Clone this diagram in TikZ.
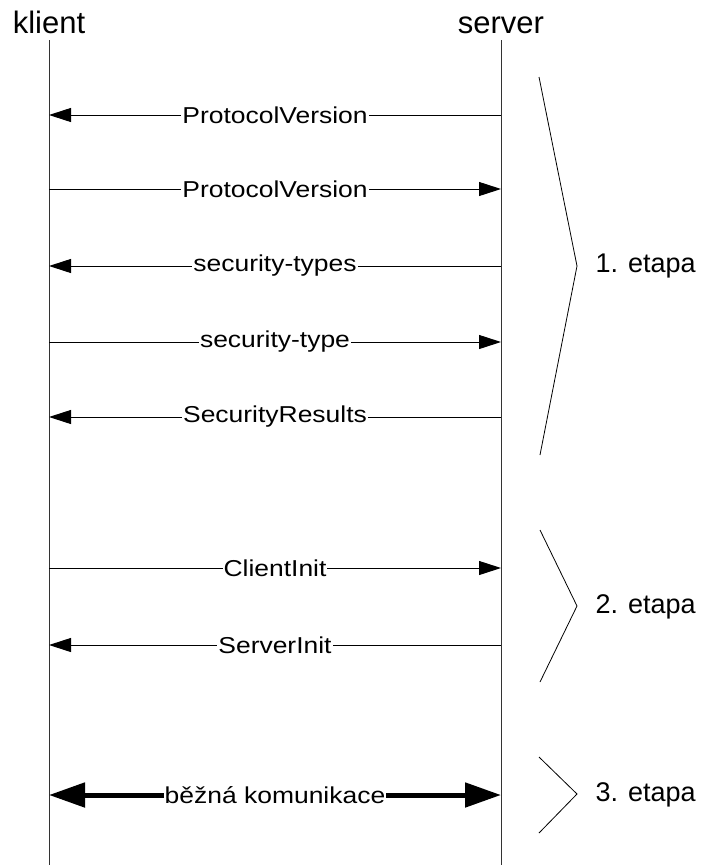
\documentclass[tikz,border=0pt]{standalone}
\usepackage{fontspec}
\setmainfont{Liberation Sans}
\usetikzlibrary{arrows.meta}
\begin{document}
\begin{tikzpicture}[x=1pt,y=-1pt,
  party/.style={anchor=base,font=\fontsize{31}{34}\selectfont},
  msgtext/.style={fill=white,inner xsep=1pt,inner ysep=2pt,font=\fontsize{23}{26}\selectfont},
  phase/.style={anchor=west,font=\fontsize{27}{31}\selectfont},
  lifeline/.style={line width=0.9pt,draw=black!80},
  msg/.style={line width=1pt,-{Triangle[length=22pt,width=14pt]}},
  bigmsg/.style={line width=5pt,{Triangle[length=36pt,width=24pt]}-{Triangle[length=36pt,width=24pt]}},
  brace/.style={line width=0.8pt}]
\useasboundingbox (0,0) rectangle (712,865);

% participants and lifelines
\node[party] (klient) at (49,33) {klient};
\node[party] (server) at (501,33) {server};
\coordinate (kTop) at (49,40);  \coordinate (kBot) at (49,865);
\coordinate (sTop) at (501,40); \coordinate (sBot) at (501,865);
\draw[lifeline] (kTop) -- (kBot);
\draw[lifeline] (sTop) -- (sBot);

% message anchor points on both lifelines
\foreach \n/\y in {1/115,2/189,3/266,4/342,5/417,6/568,7/645,8/795}{
  \coordinate (k\n) at (49,\y);
  \coordinate (s\n) at (501,\y);
}

% messages
\newcommand\wide[1]{\scalebox{1.15}[1]{#1}}
\draw[msg] (s1) -- node[msgtext] {\wide{ProtocolVersion}} (k1);
\draw[msg] (k2) -- node[msgtext] {\wide{ProtocolVersion}} (s2);
\draw[msg] (s3) -- node[msgtext] {\wide{security-types}} (k3);
\draw[msg] (k4) -- node[msgtext] {\wide{security-type}} (s4);
\draw[msg] (s5) -- node[msgtext] {\wide{SecurityResults}} (k5);
\draw[msg] (k6) -- node[msgtext] {\wide{ClientInit}} (s6);
\draw[msg] (s7) -- node[msgtext] {\wide{ServerInit}} (k7);
\draw[bigmsg] (k8) -- node[msgtext] {\wide{běžná komunikace}} (s8);

% phase brackets
\coordinate (b1t) at (539,77);  \coordinate (b1m) at (577,266); \coordinate (b1b) at (540,455);
\coordinate (b2t) at (540,530); \coordinate (b2m) at (577,606); \coordinate (b2b) at (540,682);
\coordinate (b3t) at (539,757); \coordinate (b3m) at (577,794); \coordinate (b3b) at (539,833);
\draw[brace] (b1t) -- (b1m) -- (b1b);
\draw[brace] (b2t) -- (b2m) -- (b2b);
\draw[brace] (b3t) -- (b3m) -- (b3b);
\node[phase] (e1) at (592,266) {1. etapa};
\node[phase] (e2) at (592,607) {2. etapa};
\node[phase] (e3) at (592,795) {3. etapa};
\end{tikzpicture}
\end{document}
